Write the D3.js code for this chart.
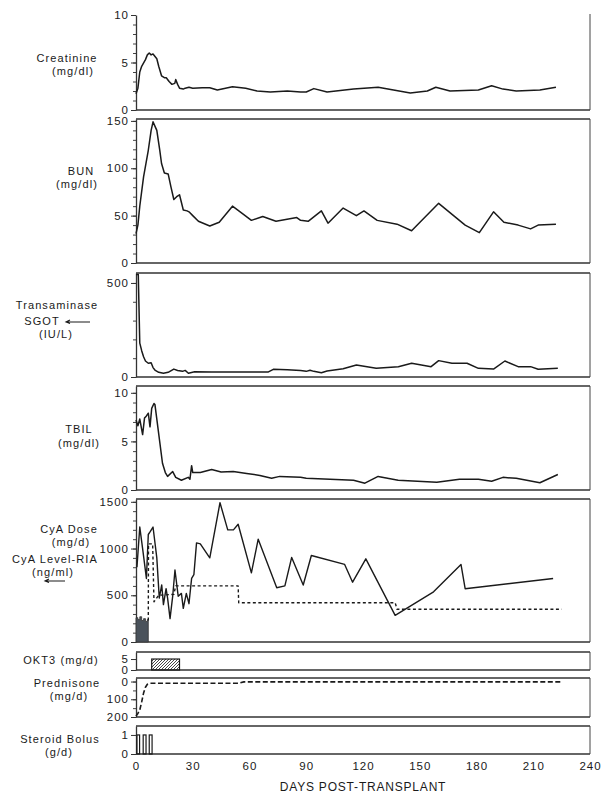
<!DOCTYPE html>
<html>
<head>
<meta charset="utf-8">
<script src="https://cdn.jsdelivr.net/npm/d3@7"></script>
<style>
body { margin: 0; background: #fff; }
text { font-family: "Liberation Sans", Arial, sans-serif; font-size: 12px; letter-spacing: 0.8px; fill: #1a1a1a; }
.tick text { font-size: 11.5px; letter-spacing: 1px; }
.lab { font-size: 11px; letter-spacing: 1.1px; }
</style>
</head>
<body>
<div id="chart"></div>
<script>
// Values, [day, value]
var creatinine = [[0,1.7],[1,2.3],[2,4.0],[3,4.6],[5,5.3],[6,5.8],[7,6.0],[8,5.8],[9,5.9],[11,5.4],[12,4.6],[13.5,3.6],[15,3.4],[16,3.4],[17.5,3.0],[19,2.7],[20.5,2.8],[21,3.2],[22,2.7],[23,2.3],[25,2.2],[26,2.3],[28,2.4],[30,2.3],[35,2.35],[39,2.35],[43,2.1],[51,2.45],[58,2.3],[64,2.0],[71,1.9],[80,2.0],[87,1.9],[90,1.9],[94,2.25],[101,1.9],[115,2.2],[128,2.4],[145,1.8],[154,2.0],[158.5,2.4],[166,2.0],[181,2.1],[188,2.55],[194,2.2],[201,2.0],[213.5,2.1],[222,2.4]];

var bun = [[0,31],[1,40],[2,60],[4,91],[6.5,119],[8,140],[9,149],[11,140],[12.5,120],[13.5,105],[15,95],[17,94],[18.5,80],[20,67],[21.5,70],[23,72],[25,56],[27,55],[28,54],[30,50],[33,44],[39,39],[44,43],[51,60],[57,51],[61,45],[65.5,48],[67,49],[74,44],[85,48],[87,45],[91,44],[98,55],[101.5,42],[109.5,58],[116.5,50],[120.5,55],[127.5,45],[138,41],[145.7,34],[160,63],[174,40],[181.5,32],[189,54],[194.5,43],[202,40],[208.6,36],[212.6,40],[222,41]];

var sgot = [[0,545],[1.2,545],[2,180],[3,140],[4,108],[5,85],[6.5,73],[8,76],[9,50],[10,37],[12,25],[14.5,20],[17,25],[20,42],[22,35],[24.6,30],[26,35],[27.7,20],[31,28],[40,27],[50,26],[65.5,26],[70,27],[72.6,41],[80,38],[87,34],[90,30],[92,36],[94,30],[98,23],[101,32],[109.5,44],[116.5,64],[127,46],[138.7,55],[145.7,73],[156,55],[160,87],[167,73],[175,73],[181,46],[189,42],[195,85],[202,55],[208.6,55],[212.6,41],[223,46]];

var tbil = [[0,7.2],[1,6.6],[2,7.3],[3.5,5.7],[4.5,7.4],[5.4,7.6],[6.5,7.9],[7.4,6.5],[8.3,8.4],[9.5,8.9],[10,8.8],[14,2.75],[15.5,1.8],[16.7,1.4],[19.4,1.9],[21,1.3],[24,1.0],[27.6,1.3],[28.5,1.1],[29.4,2.5],[30,1.8],[34,1.8],[40,2.1],[45,1.85],[51.4,1.9],[58.5,1.7],[65.5,1.5],[71.7,1.2],[76,1.4],[87,1.3],[90,1.2],[102.5,1.1],[115,1.0],[121,0.7],[128,1.4],[138.6,1.0],[159,0.8],[171,1.1],[181,1.1],[188,0.9],[194,1.3],[201,1.2],[213.5,0.75],[223,1.6]];

var cyaLevel = [[0.5,800],[2,1230],[3.5,1000],[5.5,680],[6.5,1150],[7.5,1180],[9,1230],[11,900],[12.3,470],[13.6,610],[14.5,400],[15.9,570],[16.7,470],[18,250],[19.4,490],[20.6,770],[22.3,490],[24,520],[25,360],[26.6,520],[28,410],[29.4,680],[30.6,720],[32,1060],[34,1050],[39,900],[44.4,1490],[48.5,1200],[51.5,1200],[54,1260],[61,740],[64.6,1100],[74.4,580],[78.7,600],[82.3,905],[88.4,610],[92.7,925],[110.3,830],[114.5,640],[121.5,890],[137,285],[157.3,537],[171.8,830],[174,570],[220.5,680]];

var cyaDose = [[6.5,230],[6.6,1050],[8.8,1050],[9.5,430],[12,500],[20,510],[21,600],[54,600],[54.3,420],[137,420],[138,350],[225,350]];

var cyaIV = [[0,260],[1,240],[2,270],[3,230],[4,250],[5,220],[6,240],[6.5,240]];

var okt3Start = 8.3, okt3End = 23, okt3Dose = 5;

var prednisone = [[0,195],[1,180],[2,160],[3,115],[4,65],[5,32],[6,15],[7.5,10],[54,10],[57,2],[225,2]];

var bolusStart = [0.5, 3.8, 7.0];
var bolusEnd = [1.9, 5.3, 8.5];
var bolusDose = [1, 1, 1];

var xTicks = [0, 30, 60, 90, 120, 150, 180, 210, 240];

// Panel layout
var panels = [
    {key: "creat", top: 15, bottom: 110, domain: [0, 10], major: [0, 5, 10], minor: 1, topLine: false},
    {key: "bun", top: 119, bottom: 263, domain: [0, 152], major: [0, 50, 100, 150], minor: 10, topLine: true},
    {key: "sgot", top: 273, bottom: 377, domain: [0, 553], major: [0, 500], minor: 100, topLine: true},
    {key: "tbil", top: 386, bottom: 490, domain: [0, 10.7], major: [0, 5, 10], minor: 1, topLine: true},
    {key: "cya", top: 499, bottom: 642, domain: [0, 1530], major: [0, 500, 1000, 1500], minor: 100, topLine: true},
    {key: "okt3", top: 652, bottom: 670, domain: [0, 8.2], major: [0, 5], minor: 0, topLine: true},
    {key: "pred", top: 678, bottom: 717, domain: [200, -20], major: [0, 100, 200], minor: 50, topLine: true},
    {key: "bolus", top: 726, bottom: 754, domain: [0, 1.47], major: [0, 1], minor: 0, topLine: true}
];

// Left-hand labels: [text, center x, center y]
var labels = [
    ["Creatinine", 67, 58], ["(mg/dl)", 73, 71],
    ["BUN", 81, 171], ["(mg/dl)", 77, 184],
    ["Transaminase", 57, 305], ["SGOT", 42, 321], ["(IU/L)", 56, 334],
    ["TBIL", 79, 429], ["(mg/dl)", 79, 443],
    ["CyA Dose", 69, 529], ["(mg/d)", 71, 542], ["CyA Level-RIA", 55, 559], ["(ng/ml)", 53, 572],
    ["OKT3 (mg/d)", 61, 660],
    ["Prednisone", 67, 683], ["(mg/d)", 69, 696],
    ["Steroid Bolus", 60, 739], ["(g/d)", 59, 752]
];

var svgWidth = 608;
var svgHeight = 806;
var ink = "#1a1a1a";

var svg = d3.select("#chart")
    .append("svg")
    .attr("width", svgWidth)
    .attr("height", svgHeight);

svg.append("rect")
    .attr("width", svgWidth)
    .attr("height", svgHeight)
    .attr("fill", "#fff");

// hatch for OKT3 bar
svg.append("defs").append("pattern")
    .attr("id", "hatch")
    .attr("patternUnits", "userSpaceOnUse")
    .attr("width", 3)
    .attr("height", 3)
    .append("path")
    .attr("d", "M-1,1 l2,-2 M0,3 l3,-3 M2,4 l2,-2")
    .attr("stroke", "#333")
    .attr("stroke-width", 0.9);

var x = d3.scaleLinear().domain([0, 240]).range([136, 590]);

var scales = {};

// Frames and left axes
panels.forEach(function(p) {
    var y = d3.scaleLinear().domain(p.domain).range([p.bottom, p.top]);
    scales[p.key] = y;
    var g = svg.append("g").attr("class", "panel-" + p.key);

    if (p.topLine) {
        g.append("line")
            .attr("x1", x(0)).attr("x2", x(240))
            .attr("y1", p.top).attr("y2", p.top)
            .attr("stroke", "#333").attr("stroke-width", 1.3);
    }
    g.append("line")
        .attr("x1", x(0)).attr("x2", x(240))
        .attr("y1", p.bottom).attr("y2", p.bottom)
        .attr("stroke", "#333").attr("stroke-width", 1.3);
    g.append("line")
        .attr("x1", x(240)).attr("x2", x(240))
        .attr("y1", p.top - (p.topLine ? 0 : 1)).attr("y2", p.bottom)
        .attr("stroke", "#444").attr("stroke-width", 1);

    if (p.minor) {
        var lo = Math.min(p.domain[0], p.domain[1]);
        var hi = Math.max(p.domain[0], p.domain[1]);
        var minorTicks = d3.range(Math.max(0, lo), hi + 1e-6, p.minor);
        g.append("g")
            .attr("transform", `translate(${x(0)},0)`)
            .call(d3.axisLeft(y).tickValues(minorTicks).tickSize(3).tickSizeOuter(0).tickFormat(""))
            .call(a => a.select(".domain").remove())
            .call(a => a.selectAll("line").attr("stroke", "#444"));
    }

    g.append("g")
        .attr("transform", `translate(${x(0)},0)`)
        .call(d3.axisLeft(y).tickValues(p.major).tickSize(5).tickSizeOuter(0).tickPadding(2).tickFormat(d3.format("d")))
        .call(a => a.select(".domain").attr("stroke", "#333").attr("stroke-width", 1.3))
        .call(a => a.selectAll("line").attr("stroke", "#333"))
        .call(a => a.selectAll("text").attr("font-size", null).attr("font-family", null).attr("fill", ink));
});

// Lab curves
function drawLine(data, key, dash, width) {
    var y = scales[key];
    var line = d3.line().x(d => x(d[0])).y(d => y(d[1]));
    svg.append("path")
        .datum(data)
        .attr("d", line)
        .attr("fill", "none")
        .attr("stroke", ink)
        .attr("stroke-width", width)
        .attr("stroke-linejoin", "round")
        .attr("stroke-dasharray", dash);
}

drawLine(creatinine, "creat", null, 1.5);
drawLine(bun, "bun", null, 1.5);
drawLine(sgot, "sgot", null, 1.5);
drawLine(tbil, "tbil", null, 1.5);

// CyA: IV block, dose (dotted) and level (solid)
var yC = scales.cya;
svg.append("path")
    .datum(cyaIV)
    .attr("d", d3.area().curve(d3.curveStepAfter).x(d => x(d[0])).y0(yC(0)).y1(d => yC(d[1])))
    .attr("fill", "#4a525b")
    .attr("stroke", "#333")
    .attr("stroke-width", 0.8);
drawLine(cyaDose, "cya", "3,2.5", 1.4);
drawLine(cyaLevel, "cya", null, 1.4);

// OKT3 hatched bar
var yO = scales.okt3;
svg.append("rect")
    .attr("x", x(okt3Start))
    .attr("y", yO(okt3Dose))
    .attr("width", x(okt3End) - x(okt3Start))
    .attr("height", yO(0) - yO(okt3Dose))
    .attr("fill", "url(#hatch)")
    .attr("stroke", ink)
    .attr("stroke-width", 1.2);

// Prednisone taper
drawLine(prednisone, "pred", "5,2.5", 1.6);

// Steroid bolus bars
var yB = scales.bolus;
svg.selectAll(".bolus")
    .data(bolusStart)
    .enter()
    .append("rect")
    .attr("class", "bolus")
    .attr("x", d => x(d))
    .attr("y", (d, i) => yB(bolusDose[i]))
    .attr("width", (d, i) => x(bolusEnd[i]) - x(d))
    .attr("height", (d, i) => yB(0) - yB(bolusDose[i]))
    .attr("fill", "none")
    .attr("stroke", ink)
    .attr("stroke-width", 1.2);

// Bottom axis labels
svg.append("g")
    .attr("transform", `translate(0,${panels[panels.length - 1].bottom})`)
    .call(d3.axisBottom(x).tickValues(xTicks).tickSize(0).tickPadding(8))
    .call(a => a.select(".domain").remove())
    .call(a => a.selectAll("text").attr("font-size", null).attr("font-family", null).attr("fill", ink));

svg.append("text")
    .attr("x", (x(0) + x(240)) / 2)
    .attr("y", 791)
    .attr("text-anchor", "middle")
    .text("DAYS POST-TRANSPLANT");

// Left labels
svg.selectAll(".lab")
    .data(labels)
    .enter()
    .append("text")
    .attr("class", "lab")
    .attr("x", d => d[1])
    .attr("y", d => d[2])
    .attr("dy", "0.35em")
    .attr("text-anchor", "middle")
    .text(d => d[0]);

// Little legend arrows for the solid lines
function arrow(x1, x2, yy) {
    svg.append("path")
        .attr("d", `M${x2},${yy} L${x1},${yy} M${x1 + 4},${yy - 2} L${x1},${yy} L${x1 + 4},${yy + 1.5}`)
        .attr("fill", "none")
        .attr("stroke", ink)
        .attr("stroke-width", 1.1);
}
arrow(66, 90, 322);
arrow(45, 65, 581);
</script>
</body>
</html>
